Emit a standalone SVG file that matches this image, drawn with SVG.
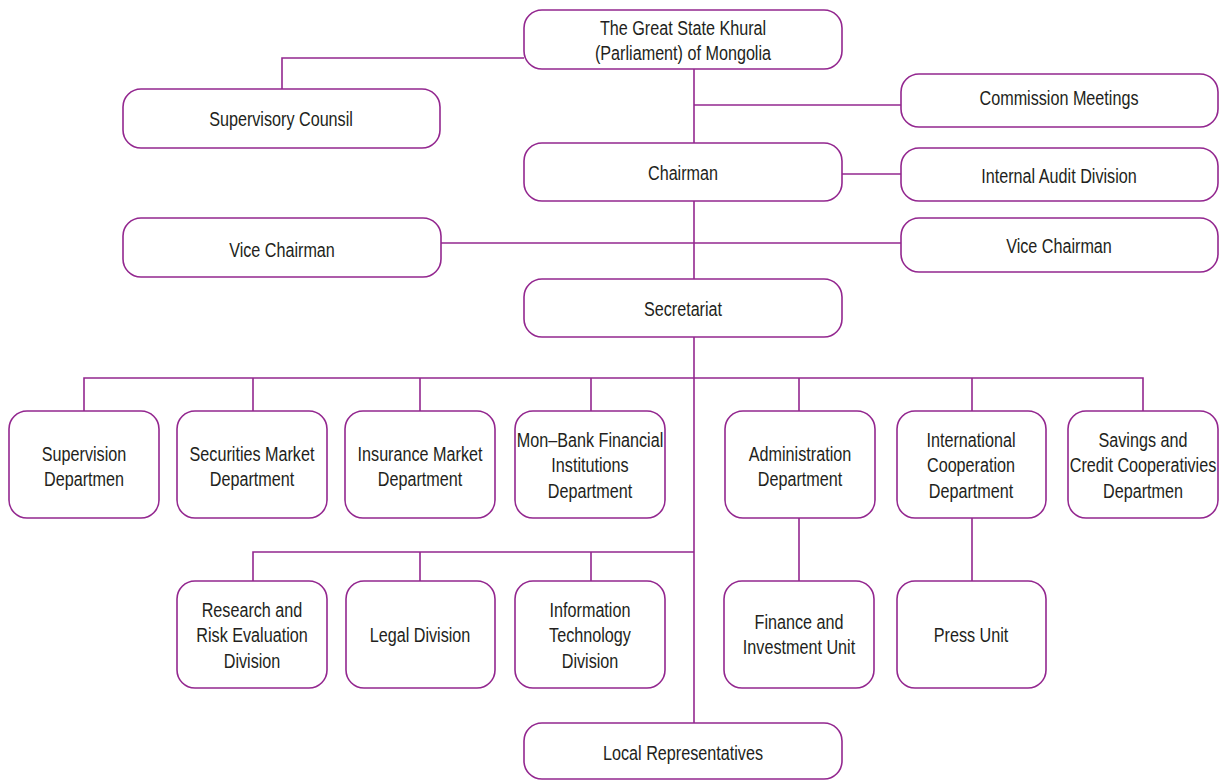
<svg xmlns="http://www.w3.org/2000/svg" width="1225" height="780" viewBox="0 0 1225 780">
<style>
.box{fill:#fff;stroke:#93278f;stroke-width:1.6}
.ln{fill:none;stroke:#93278f;stroke-width:1.6}
text{font-family:"Liberation Sans",Arial,sans-serif;font-size:21px;fill:#231f20;text-anchor:middle}
</style>
<rect width="1225" height="780" fill="#fff"/>
<g id="connectors" class="ln">
<path d="M694 69V723"/>
<path d="M282 89V58H524"/>
<path d="M694 105H901"/>
<path d="M842 174H901"/>
<path d="M441 243H901"/>
<path d="M84 411V378H1143V411M253 378V411M420 378V411M591 378V411M799 378V411M972 378V411"/>
<path d="M253 581V552H694M420 552V581M591 552V581"/>
<path d="M799 518V581M972 518V581"/>
</g>
<g id="parliament"><rect class="box" x="524" y="10" width="318" height="59" rx="18"/><text transform="translate(683,35) scale(0.77,1)">The Great State Khural</text><text transform="translate(683,60) scale(0.77,1)">(Parliament) of Mongolia</text></g>
<g id="supervisory-counsil"><rect class="box" x="123" y="89" width="317" height="59" rx="18"/><text transform="translate(281,126) scale(0.77,1)">Supervisory Counsil</text></g>
<g id="commission-meetings"><rect class="box" x="901" y="74" width="317" height="53" rx="18"/><text transform="translate(1059,105) scale(0.77,1)">Commission Meetings</text></g>
<g id="chairman"><rect class="box" x="524" y="143" width="318" height="58" rx="18"/><text transform="translate(683,180) scale(0.77,1)">Chairman</text></g>
<g id="internal-audit"><rect class="box" x="901" y="148" width="317" height="53" rx="18"/><text transform="translate(1059,183) scale(0.77,1)">Internal Audit Division</text></g>
<g id="vice-chairman-left"><rect class="box" x="123" y="218" width="318" height="59" rx="18"/><text transform="translate(282,257) scale(0.77,1)">Vice Chairman</text></g>
<g id="vice-chairman-right"><rect class="box" x="901" y="218" width="317" height="54" rx="18"/><text transform="translate(1059,253) scale(0.77,1)">Vice Chairman</text></g>
<g id="secretariat"><rect class="box" x="524" y="279" width="318" height="58" rx="18"/><text transform="translate(683,316) scale(0.77,1)">Secretariat</text></g>
<g id="supervision"><rect class="box" x="9" y="411" width="150" height="107" rx="18"/><text transform="translate(84,461) scale(0.77,1)">Supervision</text><text transform="translate(84,486) scale(0.77,1)">Departmen</text></g>
<g id="securities"><rect class="box" x="177" y="411" width="150" height="107" rx="18"/><text transform="translate(252,461) scale(0.77,1)">Securities Market</text><text transform="translate(252,486) scale(0.77,1)">Department</text></g>
<g id="insurance"><rect class="box" x="345" y="411" width="150" height="107" rx="18"/><text transform="translate(420,461) scale(0.77,1)">Insurance Market</text><text transform="translate(420,486) scale(0.77,1)">Department</text></g>
<g id="nonbank"><rect class="box" x="515" y="411" width="150" height="107" rx="18"/><text transform="translate(590,447) scale(0.77,1)">Mon–Bank Financial</text><text transform="translate(590,472) scale(0.77,1)">Institutions</text><text transform="translate(590,498) scale(0.77,1)">Department</text></g>
<g id="administration"><rect class="box" x="725" y="411" width="150" height="107" rx="18"/><text transform="translate(800,461) scale(0.77,1)">Administration</text><text transform="translate(800,486) scale(0.77,1)">Department</text></g>
<g id="international"><rect class="box" x="897" y="411" width="149" height="107" rx="18"/><text transform="translate(971,447) scale(0.77,1)">International</text><text transform="translate(971,472) scale(0.77,1)">Cooperation</text><text transform="translate(971,498) scale(0.77,1)">Department</text></g>
<g id="savings"><rect class="box" x="1068" y="411" width="150" height="107" rx="18"/><text transform="translate(1143,447) scale(0.77,1)">Savings and</text><text transform="translate(1143,472) scale(0.77,1)">Credit Cooperativies</text><text transform="translate(1143,498) scale(0.77,1)">Departmen</text></g>
<g id="research"><rect class="box" x="177" y="581" width="150" height="107" rx="18"/><text transform="translate(252,617) scale(0.77,1)">Research and</text><text transform="translate(252,642) scale(0.77,1)">Risk Evaluation</text><text transform="translate(252,668) scale(0.77,1)">Division</text></g>
<g id="legal"><rect class="box" x="346" y="581" width="149" height="107" rx="18"/><text transform="translate(420,642) scale(0.77,1)">Legal Division</text></g>
<g id="it"><rect class="box" x="515" y="581" width="150" height="107" rx="18"/><text transform="translate(590,617) scale(0.77,1)">Information</text><text transform="translate(590,642) scale(0.77,1)">Technology</text><text transform="translate(590,668) scale(0.77,1)">Division</text></g>
<g id="finance"><rect class="box" x="724" y="581" width="150" height="107" rx="18"/><text transform="translate(799,629) scale(0.77,1)">Finance and</text><text transform="translate(799,654) scale(0.77,1)">Investment Unit</text></g>
<g id="press"><rect class="box" x="897" y="581" width="149" height="107" rx="18"/><text transform="translate(971,642) scale(0.77,1)">Press Unit</text></g>
<g id="local"><rect class="box" x="524" y="723" width="318" height="56" rx="18"/><text transform="translate(683,760) scale(0.77,1)">Local Representatives</text></g>
</svg>
